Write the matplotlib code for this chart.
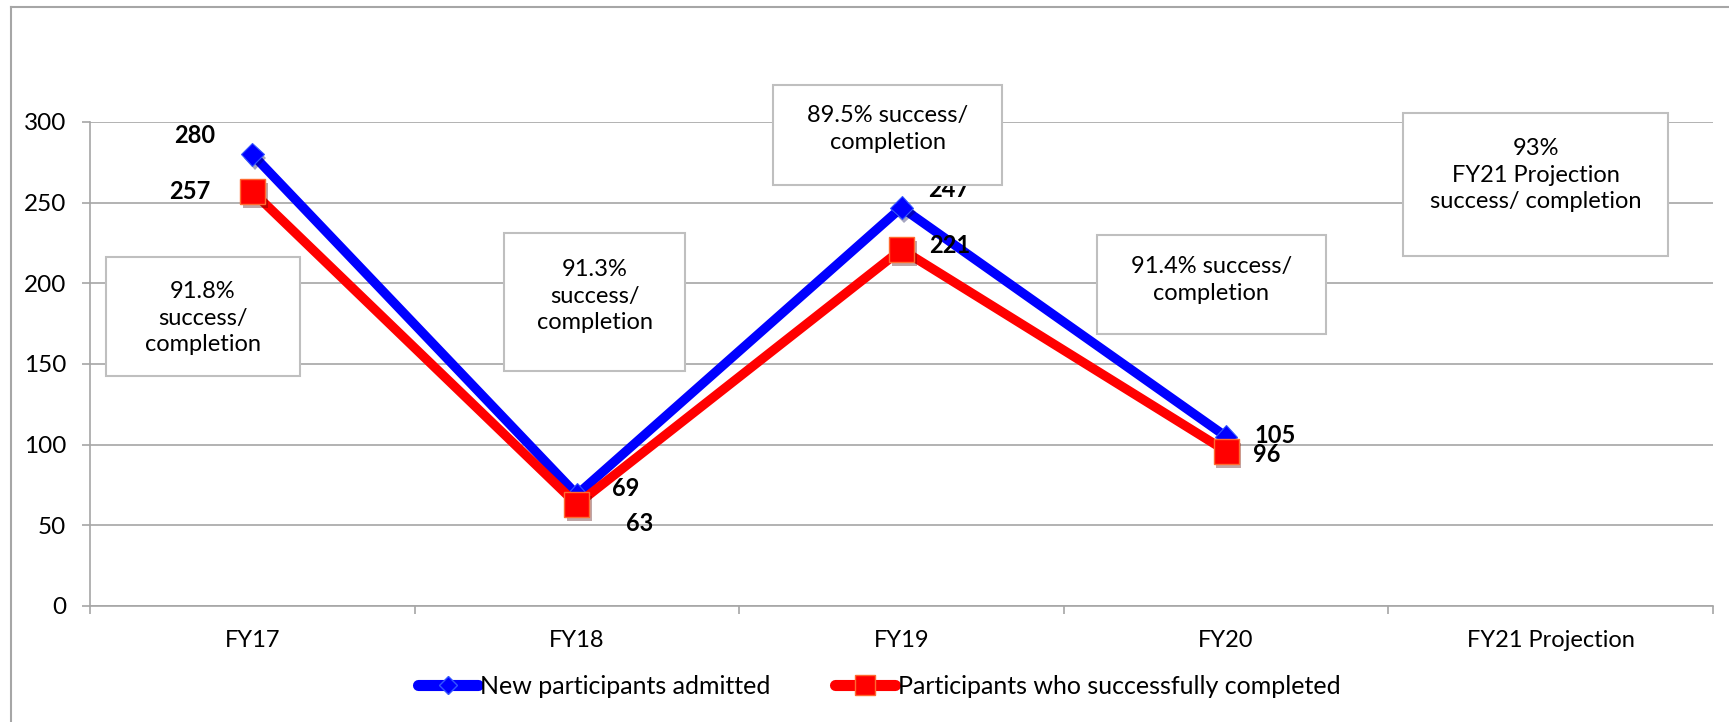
import matplotlib
matplotlib.use("Agg")
import matplotlib.pyplot as plt
from matplotlib.patches import Rectangle
from matplotlib.lines import Line2D
import matplotlib.patheffects as pe

plt.rcParams['font.family'] = ['Lato', 'DejaVu Sans']

# data
years = ["FY17", "FY18", "FY19", "FY20", "FY21 Projection"]
admitted = [280, 69, 247, 105]
completed = [257, 63, 221, 96]
box_texts = ["91.8%\nsuccess/\ncompletion",
             "91.3%\nsuccess/\ncompletion",
             "89.5% success/\ncompletion",
             "91.4% success/\ncompletion",
             "93%\nFY21 Projection\nsuccess/ completion"]

W, H = 1729, 722
fig = plt.figure(figsize=(W / 100, H / 100), dpi=100)
ax = fig.add_axes([90 / W, 1 - 606 / H, (1713 - 90) / W, (606 - 122) / H])

grid_c = "#a6a6a6"
xs = list(range(len(admitted)))
shadow = [pe.SimplePatchShadow(offset=(2, -3), alpha=0.35), pe.Normal()]

ax.plot(xs, admitted, color="#0000ff", lw=6.7, zorder=3, solid_capstyle="butt")
ax.plot(xs, admitted, ls="none", marker="D", ms=11.5, color="#0000ff",
        markeredgecolor="#3355ff", markeredgewidth=0.8, zorder=3, path_effects=shadow)
ax.plot(xs, completed, color="#ff0000", lw=6.7, zorder=4, solid_capstyle="butt")
ax.plot(xs, completed, ls="none", marker="s", ms=18, color="#ff0000",
        markeredgecolor="#ff6a30", markeredgewidth=1.0, zorder=4, path_effects=shadow)

# data labels (pixel offsets)
adm_off = [(-58, 19), (49, 6), (47, 18), (49, 1)]
com_off = [(-63, 0), (63, -19), (48, 4), (41, -3)]
for i, v in enumerate(admitted):
    ax.annotate(str(v), (i, v), xytext=adm_off[i], textcoords="offset pixels",
                ha="center", va="center", fontsize=17, fontweight="bold", zorder=6)
for i, v in enumerate(completed):
    ax.annotate(str(v), (i, v), xytext=com_off[i], textcoords="offset pixels",
                ha="center", va="center", fontsize=17, fontweight="bold", zorder=6)

ax.set_xlim(-0.5, len(years) - 0.5)
ax.set_ylim(0, 300)
ax.set_yticks(range(0, 301, 50))
ax.set_xticks(range(len(years)))
ax.set_xticklabels(years)
ax.set_xticks([i + 0.5 for i in range(-1, len(years))], minor=True)
ax.grid(axis="y", color=grid_c, lw=1.2, zorder=0)
ax.set_axisbelow(True)
for s in ["top", "right"]:
    ax.spines[s].set_visible(False)
for s in ["left", "bottom"]:
    ax.spines[s].set_color(grid_c)
    ax.spines[s].set_linewidth(1.2)
ax.tick_params(axis="y", length=6, color=grid_c, width=1.2, pad=11, labelsize=17.5)
ax.tick_params(axis="x", which="major", length=0, pad=17, labelsize=17)
ax.tick_params(axis="x", which="minor", length=6, color=grid_c, width=1.2)

# text boxes (pixel rectangles: x0, y0, x1, y1, text center y)
boxes = [(106, 257, 300, 376, 318),
         (504, 233, 685, 371, 296),
         (773, 85, 1002, 185, 129),
         (1097, 235, 1326, 334, 280),
         (1403, 113, 1668, 256, 175)]
for (x0, y0, x1, y1, ty), t in zip(boxes, box_texts):
    fig.add_artist(Rectangle((x0 / W, 1 - y1 / H), (x1 - x0) / W, (y1 - y0) / H,
                             transform=fig.transFigure, facecolor="white",
                             edgecolor="#bfbfbf", lw=1.5, zorder=5))
    fig.text((x0 + x1) / 2 / W, 1 - ty / H, t, ha="center", va="center",
             fontsize=17, linespacing=1.33, zorder=6)

# outer frame (left and top edges visible)
fig.add_artist(Line2D([11 / W, 11 / W], [0, 1 - 7 / H], color=grid_c, lw=1.5))
fig.add_artist(Line2D([11 / W, 1], [1 - 7 / H, 1 - 7 / H], color=grid_c, lw=1.5))

h1 = Line2D([], [], color="#0000ff", lw=8, marker="D", ms=9, markeredgecolor="#3355ff",
            solid_capstyle="round")
h2 = Line2D([], [], color="#ff0000", lw=8, marker="s", ms=14, markeredgecolor="#ff6a30",
            solid_capstyle="round")
fig.legend([h1, h2], ["New participants admitted", "Participants who successfully completed"],
           loc="center", bbox_to_anchor=(879 / W, 1 - 686 / H), ncol=2, frameon=False,
           fontsize=18, handlelength=2.4, handletextpad=0.1, columnspacing=2.6)

fig.savefig("out.png", dpi=100)
